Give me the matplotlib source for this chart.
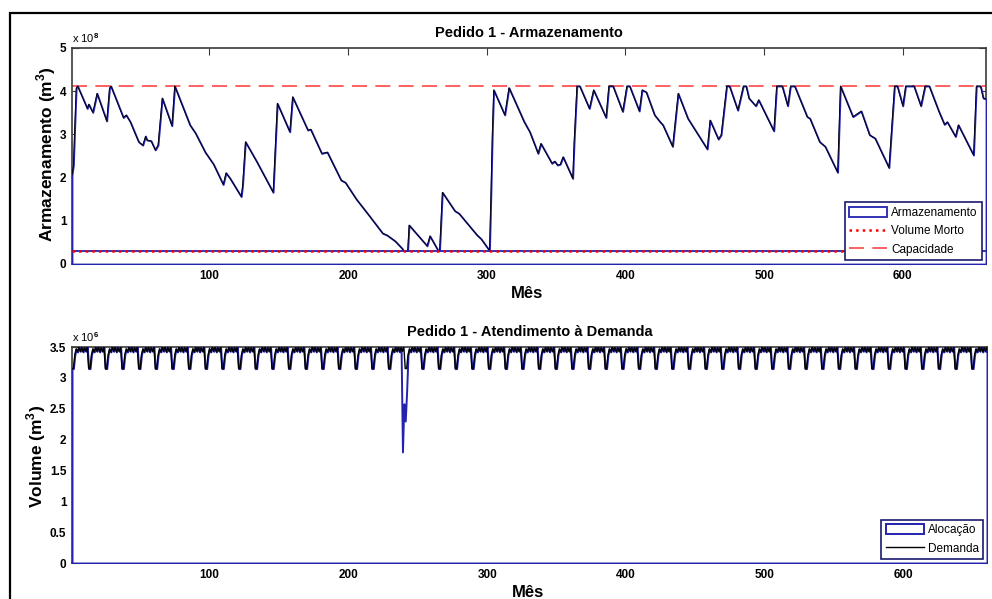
import numpy as np
import matplotlib
matplotlib.use("Agg")
import matplotlib.pyplot as plt
from matplotlib.patches import Rectangle

plt.rcParams['font.family'] = ['Liberation Sans', 'DejaVu Sans']
plt.rcParams['font.weight'] = 'bold'
plt.rcParams['mathtext.fontset'] = 'custom'
plt.rcParams['mathtext.rm'] = 'Liberation Sans'
plt.rcParams['mathtext.bf'] = 'Liberation Sans:bold'

# ---------------- Storage (x 10^8 m3): turning points of the monthly series
storage_month = [1, 2, 3, 4, 5, 12, 13, 16, 19, 26, 28, 29, 38, 40, 43, 49, 52, 54,
                 55, 58, 61, 63, 66, 73, 75, 86, 90, 97, 103, 110, 112, 115, 123,
                 124, 126, 134, 146, 149, 158, 160, 171, 173, 181, 185, 195, 198,
                 206, 215, 225, 228, 234, 239, 240, 243, 244, 257, 259, 265, 266,
                 268, 277, 280, 293, 296, 302, 303, 304, 305, 313, 316, 327, 331,
                 337, 339, 347, 349, 351, 353, 355, 362, 363, 365, 367, 374, 377,
                 386, 388, 391, 398, 401, 403, 410, 412, 415, 421, 425, 427, 434,
                 438, 445, 459, 461, 467, 469, 473, 475, 481, 485, 487, 489, 494,
                 496, 507, 509, 513, 517, 519, 522, 531, 533, 540, 544, 553, 555,
                 564, 570, 576, 580, 590, 594, 596, 600, 602, 608, 613, 616, 619,
                 626, 630, 632, 638, 640, 651, 653, 656, 658, 660]
storage_value = [2.06, 2.29, 3.22, 4.07, 4.12, 3.60, 3.70, 3.51, 3.95, 3.31, 4.07,
                 4.12, 3.39, 3.45, 3.29, 2.83, 2.75, 2.96, 2.87, 2.85, 2.64, 2.75,
                 3.84, 3.20, 4.12, 3.22, 3.03, 2.59, 2.31, 1.84, 2.11, 1.98, 1.56,
                 1.83, 2.83, 2.38, 1.66, 3.72, 3.06, 3.87, 3.10, 3.12, 2.56, 2.59,
                 1.94, 1.89, 1.50, 1.13, 0.71, 0.67, 0.53, 0.36, 0.31, 0.31, 0.90,
                 0.42, 0.65, 0.31, 0.31, 1.66, 1.23, 1.17, 0.67, 0.58, 0.31, 1.60,
                 3.00, 4.03, 3.45, 4.08, 3.29, 3.06, 2.56, 2.79, 2.33, 2.38, 2.29,
                 2.31, 2.48, 1.98, 2.83, 4.12, 4.12, 3.60, 4.03, 3.39, 4.12, 4.12,
                 3.53, 4.12, 4.12, 3.54, 4.03, 3.98, 3.45, 3.29, 3.22, 2.72, 3.95,
                 3.37, 2.66, 3.33, 2.89, 2.99, 4.12, 4.12, 3.56, 4.12, 4.12, 3.84,
                 3.66, 3.80, 3.08, 4.12, 4.12, 3.66, 4.12, 4.12, 3.41, 3.37, 2.83,
                 2.72, 2.12, 4.12, 3.41, 3.54, 2.99, 2.91, 2.23, 4.12, 4.12, 3.66,
                 4.12, 4.12, 3.66, 4.12, 4.12, 3.53, 3.23, 3.29, 2.95, 3.22, 2.52,
                 4.12, 4.12, 3.84, 3.82]
capacity = 4.12      # x 10^8 m3
dead_volume = 0.31   # x 10^8 m3

# ---------------- Demand / allocation (x 10^6 m3)
n_months = 660
demand_month_pattern = [3.15, 3.15, 3.37, 3.47, 3.42, 3.50, 3.43, 3.50, 3.42, 3.49, 3.43, 3.50]
failure_months = [239, 240, 241, 242]
failure_allocation = [1.80, 2.58, 2.30, 2.78]

x_ticks = [100, 200, 300, 400, 500, 600]
y1_ticks = [0, 1, 2, 3, 4, 5]
y2_ticks = [0, 0.5, 1, 1.5, 2, 2.5, 3, 3.5]
y2_ticklabels = ['0', '0.5', '1', '1.5', '2', '2.5', '3', '3.5']

BLUE = '#2323b0'
SPINE = '#3a3a3a'

months = np.arange(1, n_months + 1)
demand = np.tile(demand_month_pattern, n_months // 12)
allocation = demand.copy()
allocation[np.array(failure_months) - 1] = failure_allocation

W, H = 992, 599
fig = plt.figure(figsize=(W / 100, H / 100), dpi=100, facecolor='white')
ax1 = fig.add_axes([72 / W, 1 - 264 / H, 914 / W, 216 / H])
ax2 = fig.add_axes([72 / W, 1 - 563 / H, 915 / W, 216 / H])

# frame around the figure
fig.add_artist(Rectangle((10 / W, -0.1), 1.2, 1.1 - 13 / H, transform=fig.transFigure,
                         fill=False, ec='black', lw=1.6))

legend_style = dict(loc='lower right', prop={'weight': 'normal', 'size': 8.5},
                    frameon=True, fancybox=False, framealpha=1, edgecolor='#1a1a70',
                    handlelength=3.2, handleheight=0.9, handletextpad=0.35,
                    labelspacing=0.55, borderpad=0.4, borderaxespad=0.3)

# ---- top panel
ax1.fill_between(storage_month, storage_value, 0, facecolor='white', edgecolor=BLUE,
                 lw=1.3, zorder=3, label='Armazenamento')
ax1.plot(storage_month, storage_value, color='black', lw=0.6, zorder=4)
ax1.axhline(dead_volume, color=BLUE, lw=1.3, zorder=5)
ax1.axhline(dead_volume, color='red', ls=':', lw=1.8, zorder=6, label='Volume Morto')
ax1.axhline(capacity, color='#ff4545', lw=1.2, dashes=(9, 5), zorder=2, label='Capacidade')
ax1.set_xlim(1, n_months)
ax1.set_ylim(0, 5)
ax1.set_yticks(y1_ticks)
ax1.set_title('Pedido 1 - Armazenamento', fontsize=10.5, fontweight='bold', pad=8)
ax1.set_xlabel('Mês', fontsize=12, fontweight='bold')
ax1.set_ylabel(r'Armazenamento (m$^\mathbf{3}$)', fontsize=12.5, fontweight='bold')
ax1.xaxis.set_label_coords(0.498, -0.10)
ax1.yaxis.set_label_coords(-0.0153, 0.51)
ax1.text(0.0, 1.046, r'x 10$^{8}$', transform=ax1.transAxes, fontsize=8,
         fontweight='normal', va='center', ha='left')
leg1 = ax1.legend(**legend_style)
leg1.get_frame().set_linewidth(1.2)
leg1.set_zorder(10)

# ---- bottom panel
ax2.fill_between(months, allocation, 0, facecolor='white', edgecolor=BLUE,
                 lw=1.4, zorder=3, label='Alocação')
ax2.plot(months, demand, color='black', lw=1.0, zorder=4, label='Demanda')
ax2.set_xlim(1, n_months)
ax2.set_ylim(0, 3.5)
ax2.set_yticks(y2_ticks)
ax2.set_yticklabels(y2_ticklabels)
ax2.set_title('Pedido 1 - Atendimento à Demanda', fontsize=10.5, fontweight='bold', pad=8)
ax2.set_xlabel('Mês', fontsize=12, fontweight='bold')
ax2.set_ylabel(r'Volume (m$^\mathbf{3}$)', fontsize=12.5, fontweight='bold')
ax2.xaxis.set_label_coords(0.498, -0.10)
ax2.yaxis.set_label_coords(-0.0258, 0.495)
ax2.text(0.0, 1.046, r'x 10$^{6}$', transform=ax2.transAxes, fontsize=8,
         fontweight='normal', va='center', ha='left')
leg2 = ax2.legend(**legend_style)
leg2.get_frame().set_linewidth(1.2)
leg2.set_zorder(10)

for ax in (ax1, ax2):
    ax.set_xticks(x_ticks)
    ax.tick_params(direction='in', length=5, width=0.8, top=True, right=True,
                   labelsize=8.5, color=SPINE, pad=4)
    for s in ax.spines.values():
        s.set_color(SPINE)
        s.set_linewidth(1.2)
    for lbl in ax.get_xticklabels() + ax.get_yticklabels():
        lbl.set_fontweight('bold')

fig.savefig('out.png', dpi=100, facecolor='white')
